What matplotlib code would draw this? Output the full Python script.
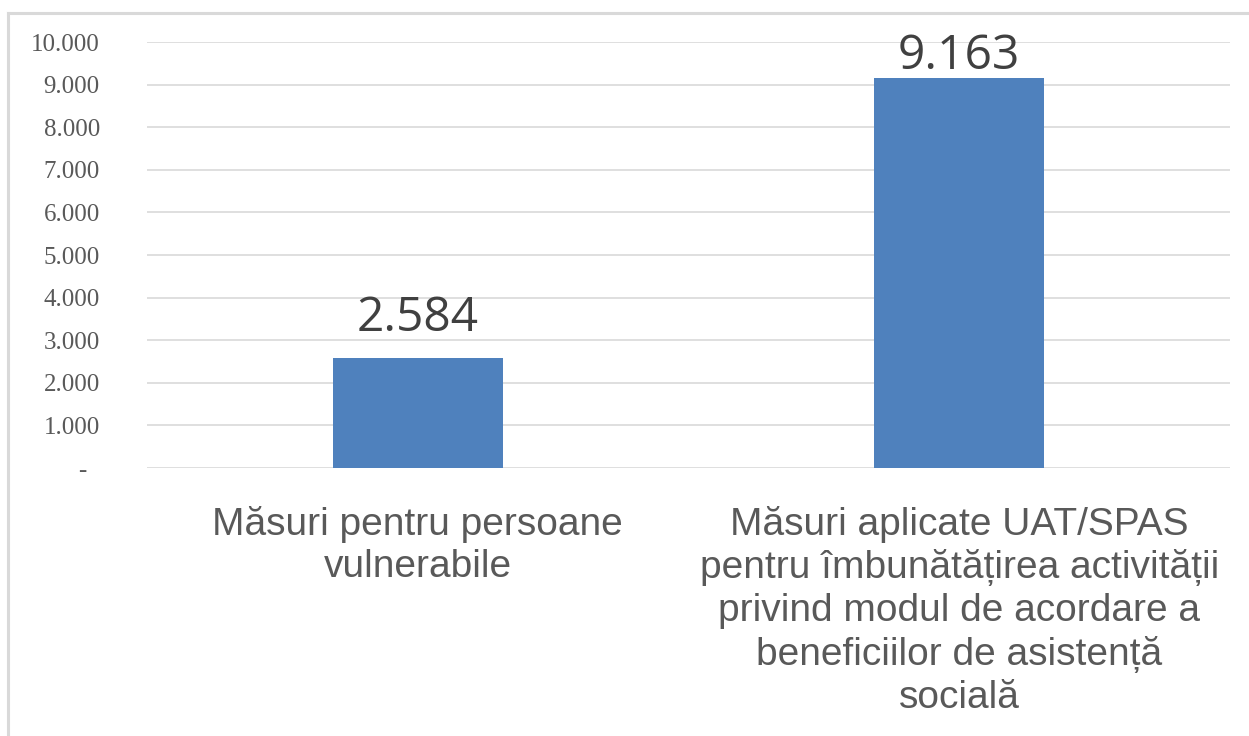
import matplotlib.pyplot as plt
from matplotlib.lines import Line2D
from matplotlib.ticker import FuncFormatter

categories = [
    "Măsuri pentru persoane\nvulnerabile",
    "Măsuri aplicate UAT/SPAS\npentru îmbunătățirea activității\nprivind modul de acordare a\nbeneficiilor de asistență\nsocială",
]
values = [2584, 9163]
value_labels = ["2.584", "9.163"]
yticks = [0, 1000, 2000, 3000, 4000, 5000, 6000, 7000, 8000, 9000, 10000]

bar_color = "#4F81BD"
grid_color = "#D9D9D9"
text_gray = "#595959"

fig = plt.figure(figsize=(12.49, 7.36), dpi=100)
ax = fig.add_axes([0.1177, 0.3641, 0.867, 0.5788])

x = range(len(categories))
ax.bar(x, values, width=0.314, color=bar_color, zorder=3)

# labels sit above the bar, but get pushed down when they would leave the plot area
for xi, v, lab in zip(x, values, value_labels):
    ax.text(xi, min(v + 630, 9370), lab, ha="center", va="baseline", fontsize=34.5,
            family="Open Sans", color="#404040", zorder=4)

ax.set_xlim(-0.5, 1.5)
ax.set_ylim(0, 10000)
ax.set_yticks(yticks)


def fmt(v, pos):
    if v == 0:
        return "-  "  # accounting style dash, a bit left of the digits
    return f"{int(v):,}".replace(",", ".")


ax.yaxis.set_major_formatter(FuncFormatter(fmt))
ax.grid(axis="y", color=grid_color, linewidth=1.2, zorder=0)
ax.set_xticks(list(x))
ax.set_xticklabels(categories, fontsize=28, family="Liberation Sans",
                   color=text_gray, linespacing=1.24)
ax.tick_params(axis="x", length=0, pad=27)
ax.tick_params(axis="y", length=0, pad=34, labelsize=18, labelcolor=text_gray)
for lab in ax.get_yticklabels():
    lab.set_family("Liberation Serif")
for s in ax.spines.values():
    s.set_visible(False)

# outer frame (top and left only, as in the cropped screenshot)
fig.add_artist(Line2D([8 / 1249, 1], [1 - 13 / 736, 1 - 13 / 736],
                      color=grid_color, linewidth=2.2))
fig.add_artist(Line2D([8 / 1249, 8 / 1249], [0, 1 - 13 / 736],
                      color=grid_color, linewidth=2.2))

fig.savefig("out.png", dpi=100)
